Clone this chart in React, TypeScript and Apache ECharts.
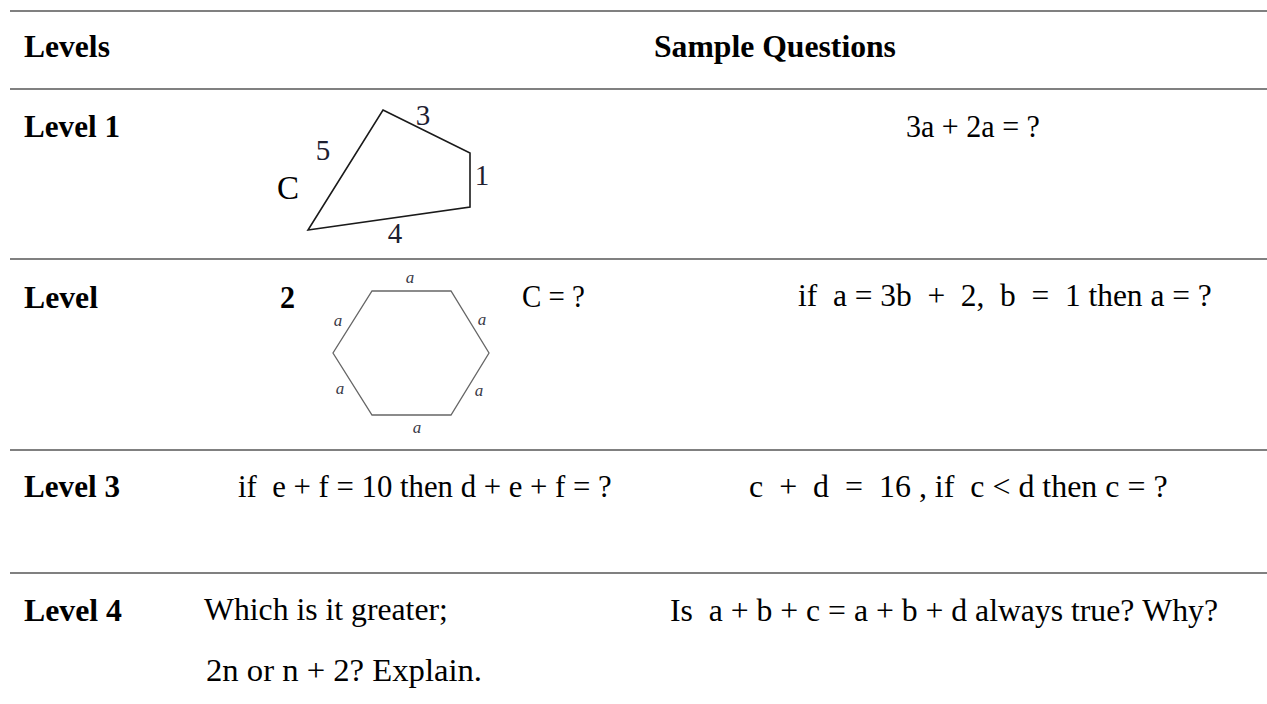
import React, { useEffect, useRef } from "react";
import * as echarts from "echarts";

// ---- content (data) ----
const headers = ["Levels", "Sample Questions"];
const levelLabels = ["Level 1", "Level", "Level 3", "Level 4"];
const level2Number = "2";
const row1Questions = ["3a + 2a = ?"];
const row2Questions = ["C = ?", "if  a = 3b  +  2,  b  =  1 then a = ?"];
const row3Questions = ["if  e + f = 10 then d + e + f = ?", "c  +  d  =  16 , if  c < d then c = ?"];
const row4Questions = ["Which is it greater;", "2n or n + 2? Explain.", "Is  a + b + c = a + b + d always true? Why?"];
const quadSideLabels = ["3", "1", "4", "5"];
const quadName = "C";
const hexSideLabels = ["a", "a", "a", "a", "a", "a"];

// ---- layout ----
const W = 1267;
const H = 704;
const FONT = "Liberation Serif";
const ruleY = [11, 89, 259, 450, 573];
const ruleX0 = 10;

type TextSpec = { t: string; x: number; y: number; w: number; bold?: boolean; size?: number };

const measureCanvas = typeof document !== "undefined" ? document.createElement("canvas") : null;
function measure(t: string, size: number, bold: boolean) {
  const ctx = measureCanvas ? measureCanvas.getContext("2d") : null;
  if (!ctx) return 0;
  ctx.font = `${bold ? "bold " : ""}${size}px "${FONT}"`;
  return ctx.measureText(t.replace(/ /g, "\u00a0")).width;
}

function textEl(s: TextSpec) {
  const size = s.size ?? 32;
  const bold = !!s.bold;
  const txt = s.t.replace(/ /g, "\u00a0");
  const m = measure(s.t, size, bold);
  let sx = m > 0 ? s.w / m : 1;
  sx = Math.max(0.8, Math.min(1.2, sx));
  return {
    type: "text",
    x: s.x,
    y: s.y,
    scaleX: sx,
    silent: true,
    style: {
      text: txt,
      x: 0,
      y: 0,
      fill: "#000",
      fontFamily: FONT,
      fontSize: size,
      fontWeight: bold ? "bold" : "normal",
      textAlign: "left",
      textVerticalAlign: "middle",
      verticalAlign: "middle",
    },
  };
}

function buildGraphics() {
  const els: any[] = [];
  // horizontal rules of the table
  ruleY.forEach((y) => {
    els.push({
      type: "line",
      silent: true,
      shape: { x1: ruleX0, y1: y, x2: W, y2: y },
      style: { stroke: "#808080", lineWidth: 2 },
    });
  });

  const texts: TextSpec[] = [
    { t: headers[0], x: 24, y: 46, w: 86, bold: true },
    { t: headers[1], x: 654, y: 46, w: 242, bold: true },
    { t: levelLabels[0], x: 24, y: 126, w: 96, bold: true },
    { t: levelLabels[1], x: 24, y: 297, w: 74, bold: true },
    { t: levelLabels[2], x: 24, y: 486, w: 96, bold: true },
    { t: levelLabels[3], x: 24, y: 610, w: 98, bold: true },
    { t: level2Number, x: 280, y: 297, w: 15, bold: true },
    { t: row1Questions[0], x: 906, y: 126, w: 134 },
    { t: row2Questions[0], x: 522, y: 297, w: 63 },
    { t: row2Questions[1], x: 798, y: 295, w: 414 },
    { t: row3Questions[0], x: 238, y: 486, w: 374 },
    { t: row3Questions[1], x: 749, y: 486, w: 419 },
    { t: row4Questions[0], x: 204, y: 609, w: 244 },
    { t: row4Questions[1], x: 206, y: 670, w: 276 },
    { t: row4Questions[2], x: 670, y: 610, w: 548 },
  ];
  texts.forEach((s) => els.push(textEl(s)));

  // quadrilateral (Level 1)
  els.push({
    type: "polygon",
    silent: true,
    shape: { points: [[383, 110], [470, 153], [470, 207], [308, 230]] },
    style: { fill: "none", stroke: "#1a1a1a", lineWidth: 1.6 },
  });
  const quadLabelPos = [[423, 115], [482, 175], [395, 233], [323, 150]];
  quadSideLabels.forEach((lab, i) => {
    els.push({
      type: "text",
      silent: true,
      x: quadLabelPos[i][0],
      y: quadLabelPos[i][1],
      style: {
        text: lab,
        fill: "#1e2030",
        fontFamily: FONT,
        fontSize: 29,
        textAlign: "center",
        textVerticalAlign: "middle",
        verticalAlign: "middle",
      },
    });
  });
  els.push({
    type: "text",
    silent: true,
    x: 288,
    y: 188,
    style: {
      text: quadName,
      fill: "#000",
      fontFamily: FONT,
      fontSize: 33,
      textAlign: "center",
      textVerticalAlign: "middle",
      verticalAlign: "middle",
    },
  });

  // hexagon (Level 2)
  els.push({
    type: "polygon",
    silent: true,
    shape: { points: [[372, 291], [451, 291], [489, 353], [451, 415], [372, 415], [333, 353]] },
    style: { fill: "none", stroke: "#666666", lineWidth: 1.3 },
  });
  const hexLabelPos = [[410, 277], [482, 319], [479, 390], [417, 427], [340, 388], [338, 320]];
  hexSideLabels.forEach((lab, i) => {
    els.push({
      type: "text",
      silent: true,
      x: hexLabelPos[i][0],
      y: hexLabelPos[i][1],
      style: {
        text: lab,
        fill: "#3a3a48",
        fontFamily: FONT,
        fontSize: 17,
        fontStyle: "italic",
        textAlign: "center",
        textVerticalAlign: "middle",
        verticalAlign: "middle",
      },
    });
  });
  return els;
}

export default function App() {
  const ref = useRef<HTMLDivElement>(null);
  useEffect(() => {
    if (!ref.current) return;
    const chart = echarts.init(ref.current, undefined, { renderer: "svg", width: W, height: H });
    chart.setOption({
      animation: false,
      backgroundColor: "#ffffff",
      graphic: { elements: buildGraphics() },
    });
    return () => chart.dispose();
  }, []);
  return (
    <div
      ref={ref}
      style={{ position: "fixed", left: 0, top: 0, width: W, height: H, background: "#fff" }}
    />
  );
}
